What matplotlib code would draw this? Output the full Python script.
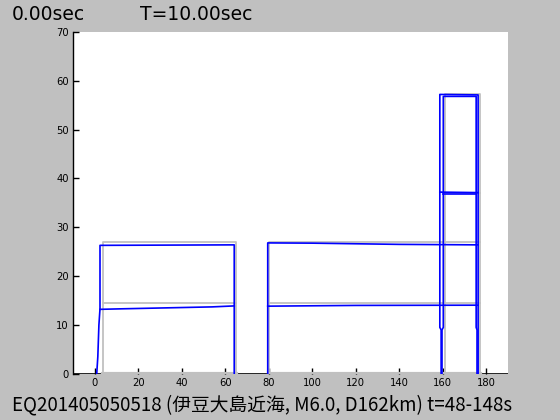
import matplotlib
matplotlib.use('Agg')
import matplotlib.pyplot as plt

# undeformed frame (gray): polylines as (x list, y list)
gray_x = [
    [4, 4, 65, 65],            # frame A outline
    [4, 65],                   # frame A floor
    [80, 80, 177, 177],        # frame B outline
    [80, 177],                 # frame B floor
    [161, 161, 177, 177],      # tower outline
    [161, 177],                # tower floor
    [161, 161],                # tower column below
]
gray_y = [
    [0, 27, 27, 0],
    [14.5, 14.5],
    [0, 27, 27, 0],
    [14.5, 14.5],
    [27, 57.3, 57.3, 27],
    [37, 37],
    [0, 27],
]

# deformed frame (blue)
blue_x = [
    [1.0, 1.5, 2.0, 2.5, 2.5, 33, 64.2, 64.2],   # frame A outline
    [2.5, 12, 33, 54, 64.2],                     # frame A floor
    [79.6, 79.6, 100, 140, 176.3],               # frame B outline
    [79.6, 120, 176.3],                          # frame B floor
    [159.3, 159.3, 158.7, 158.7, 176.3, 176.3],  # tower outer
    [159.7, 159.7, 160.3, 160.3, 175.4, 175.4, 175.8, 175.8],  # tower inner
    [158.7, 176.3],                              # tower floor
    [160.3, 175.4],                              # tower floor 2
]
blue_y = [
    [0, 3.5, 10, 13.3, 26.3, 26.35, 26.4, 0],
    [13.2, 13.3, 13.5, 13.7, 13.9],
    [0, 26.8, 26.75, 26.5, 26.4],
    [13.85, 14.0, 14.05],
    [0, 9, 9.5, 57.2, 57.1, 0],
    [0, 9, 9.5, 56.8, 56.8, 9.5, 9, 0],
    [37.2, 37.1],
    [36.9, 36.9],
]

ground_x = [-10, 190]
frame_bases = [[4, 65], [80, 177]]

x_ticks = list(range(0, 200, 20))
y_ticks = list(range(0, 80, 10))

time_text = '0.00sec'
period_text = 'T=10.00sec'
caption = 'EQ201405050518 (伊豆大島近海, M6.0, D162km) t=48-148s'

plt.rcParams['font.family'] = ['Noto Sans CJK JP', 'DejaVu Sans']

fig = plt.figure(figsize=(5.6, 4.2), dpi=100, facecolor='#C0C0C0')
ax = fig.add_axes([0.13, 0.11, 0.777, 0.814])
ax.set_facecolor('white')

ax.plot(ground_x, [0, 0], color='black', lw=1.2, zorder=1)
for bx in frame_bases:
    ax.plot(bx, [0, 0], color='#C0C0C0', lw=3, zorder=2)

for xs, ys in zip(gray_x, gray_y):
    ax.plot(xs, ys, color='#C0C0C0', lw=1.3, zorder=3)
for xs, ys in zip(blue_x, blue_y):
    ax.plot(xs, ys, color='#0000FF', lw=1.2, zorder=4)

ax.set_xlim(-10, 190)
ax.set_ylim(0, 70)
ax.set_xticks(x_ticks)
ax.set_yticks(y_ticks)
for s in ['top', 'right', 'bottom']:
    ax.spines[s].set_visible(False)
ax.spines['left'].set_linewidth(1)
ax.tick_params(direction='in', length=4, width=1, labelsize=8, pad=3)
for lab in ax.get_xticklabels() + ax.get_yticklabels():
    lab.set_family(['DejaVu Sans'])
    lab.set_stretch('condensed')

fig.text(12 / 560, 1 - 14 / 420, time_text, fontsize=13.5, va='center',
         family=['DejaVu Sans'])
fig.text(140 / 560, 1 - 14 / 420, period_text, fontsize=13.5, va='center',
         family=['DejaVu Sans'])
fig.text(12 / 560, 1 - 405 / 420, caption, fontsize=13.5, va='center')

plt.savefig('out.png', dpi=100, facecolor=fig.get_facecolor())
